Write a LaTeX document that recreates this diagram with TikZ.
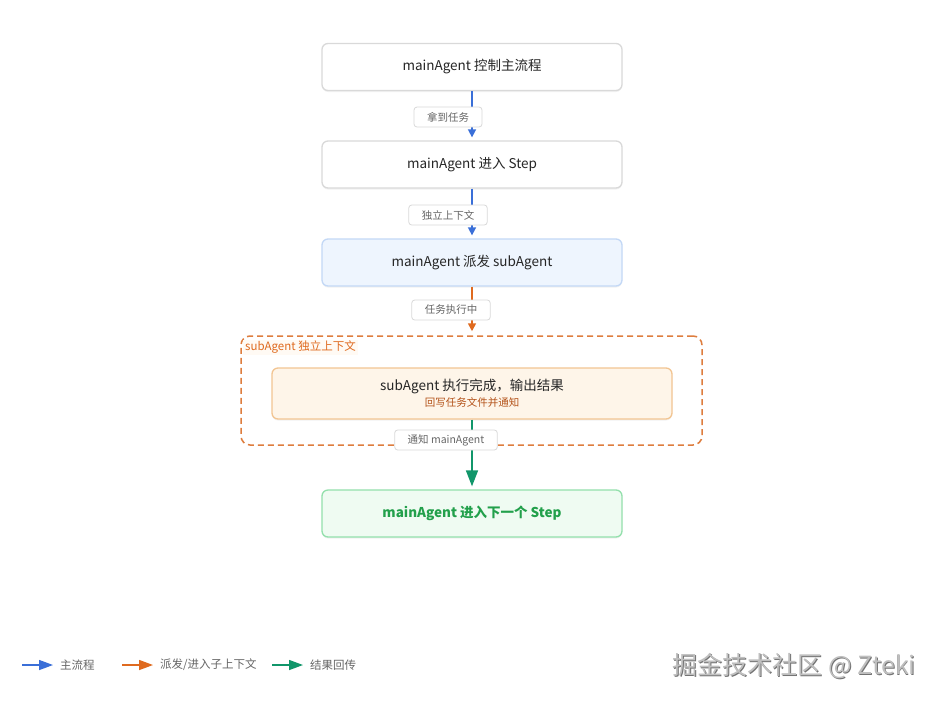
\documentclass[tikz,border=0pt]{standalone}
\usepackage{fontspec}
\setmainfont{Noto Sans CJK SC}
\usetikzlibrary{arrows.meta,shadows}
\definecolor{cblue}{HTML}{3A6FD8}
\definecolor{corange}{HTML}{DF6A1F}
\definecolor{cgreen}{HTML}{11966A}
\definecolor{cgtext}{HTML}{22A04B}
\definecolor{bordgray}{HTML}{D9D9D9}
\definecolor{lblgray}{HTML}{666666}
\definecolor{b3fill}{HTML}{EEF5FE}
\definecolor{b3draw}{HTML}{C3D8F6}
\definecolor{b4fill}{HTML}{FEF5E9}
\definecolor{b4draw}{HTML}{F2C592}
\definecolor{b5fill}{HTML}{EFFBF2}
\definecolor{b5draw}{HTML}{93E0AC}
\definecolor{dashc}{HTML}{DE7D3E}
\definecolor{subtxt}{HTML}{B4531A}
\tikzset{
  flowbox/.style={draw=bordgray, line width=1.3pt, fill=white, rounded corners=6pt,
    minimum width=300pt, minimum height=47pt, inner sep=0pt,
    font=\fontsize{13.5}{16}\selectfont, text=black!85,
    drop shadow={opacity=0.10, shadow xshift=0pt, shadow yshift=-1.5pt}},
  edgelbl/.style={draw=bordgray, line width=0.8pt, fill=white, rounded corners=3pt,
    minimum height=20pt, inner xsep=13pt, inner ysep=0pt,
    font=\fontsize{10.5}{12}\selectfont, text=lblgray},
  arrb/.style={draw=cblue, line width=1.6pt, -{Triangle[length=8pt,width=8pt]}},
  arro/.style={draw=corange, line width=1.6pt, -{Triangle[length=8pt,width=8pt]}},
  arrg/.style={draw=cgreen, line width=1.6pt, -{Triangle[length=16pt,width=12pt]}},
  legtxt/.style={font=\fontsize{11.5}{13}\selectfont, text=lblgray, anchor=west, inner sep=0pt},
}
\begin{document}
\begin{tikzpicture}[x=1pt, y=-1pt]
\useasboundingbox[fill=white] (0,0) rectangle (936,702);

% container
\node[draw=dashc, dashed, dash pattern=on 6pt off 4pt, line width=1.5pt, rounded corners=9pt,
  minimum width=461pt, minimum height=109pt, inner sep=0pt] (cont) at (471.5,390.5) {};
\node[anchor=north west, inner xsep=2pt, inner ysep=1pt, fill=b4fill!50, text=corange,
  font=\fontsize{11.5}{13}\selectfont] (contlbl) at (243,340) {subAgent 独立上下文};

% boxes
\node[flowbox] (b1) at (472,67) {mainAgent 控制主流程};
\node[flowbox] (b2) at (472,164.5) {mainAgent 进入 Step};
\node[flowbox, fill=b3fill, draw=b3draw] (b3) at (472,262.5) {mainAgent 派发 subAgent};
\node[flowbox, fill=b4fill, draw=b4draw, minimum width=400pt, minimum height=51pt,
  align=center] (b4) at (472,393.5)
  {\fontsize{13.5}{17}\selectfont subAgent 执行完成，输出结果\\[0pt]
   {\fontsize{10.5}{13}\selectfont\color{subtxt}回写任务文件并通知}};
\node[flowbox, fill=b5fill, draw=b5draw, text=cgtext, font=\fontsize{13.5}{16}\selectfont\bfseries] (b5) at (472,513.5) {mainAgent 进入下一个 Step};

% connectors
\draw[arrb, shorten >=3pt] (b1) -- (b2);
\draw[arrb, shorten >=3pt] (b2) -- (b3);
\draw[arro, shorten >=4pt] (b3.south) -- (cont.north -| b3.south);
\draw[arrg, shorten >=3pt] (b4) -- (b5);

% edge labels
\node[edgelbl] (l1) at (448,117) {拿到任务};
\node[edgelbl] (l2) at (448,215) {独立上下文};
\node[edgelbl] (l3) at (451,310) {任务执行中};
\node[edgelbl] (l4) at (446,440) {通知 mainAgent};

% legend
\coordinate (lb1) at (22,665); \coordinate (lb2) at (53,665);
\coordinate (lo1) at (122,665); \coordinate (lo2) at (153,665);
\coordinate (lg1) at (272,665); \coordinate (lg2) at (303,665);
\draw[draw=cblue, line width=1.4pt, -{Triangle[length=14pt,width=10pt]}] (lb1) -- (lb2);
\draw[draw=corange, line width=1.4pt, -{Triangle[length=14pt,width=10pt]}] (lo1) -- (lo2);
\draw[draw=cgreen, line width=1.4pt, -{Triangle[length=14pt,width=10pt]}] (lg1) -- (lg2);
\node[legtxt] (t1) at (60,665) {主流程};
\node[legtxt] (t2) at (160,665) {派发/进入子上下文};
\node[legtxt] (t3) at (310,665) {结果回传};

% watermark
\node[anchor=east, inner sep=0pt, text=black!55, font=\fontsize{25}{28}\selectfont] (wm0) at (916.8,667) {掘金技术社区 @ Zteki};
\node[anchor=east, inner sep=0pt, text=black!25, font=\fontsize{25}{28}\selectfont] (wm) at (916,666) {掘金技术社区 @ Zteki};
\end{tikzpicture}
\end{document}
